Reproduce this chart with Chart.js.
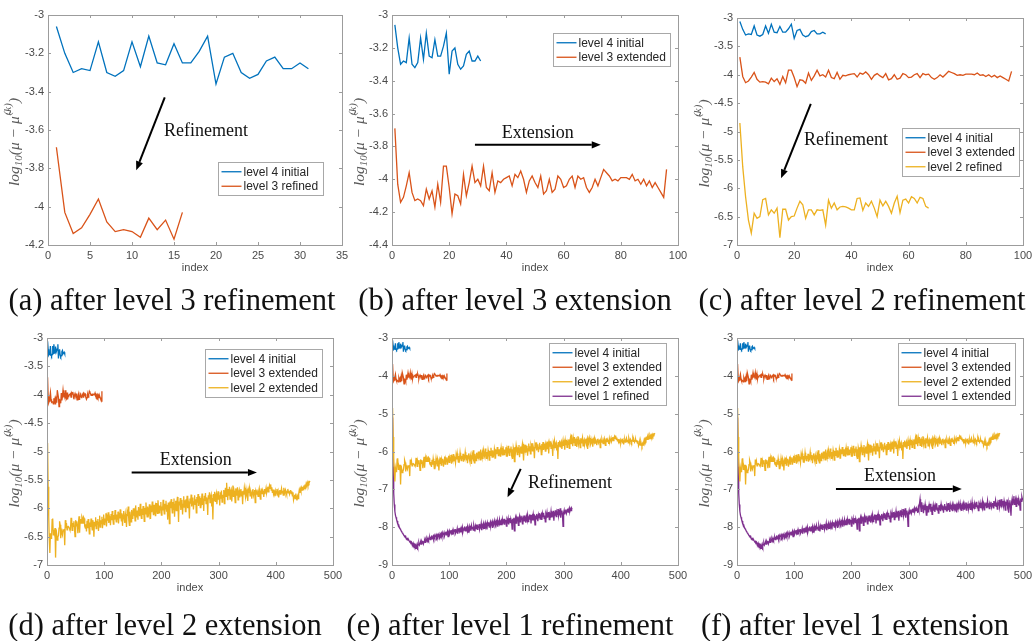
<!DOCTYPE html>
<html>
<head>
<meta charset="utf-8">
<script src="https://cdn.jsdelivr.net/npm/chart.js@4.4.1/dist/chart.umd.min.js"></script>
<style>
  body { margin: 0; background: #fff; }
  #page { position: relative; width: 1035px; height: 641px; overflow: hidden; background: #fff; }
  #page canvas { position: absolute; }
  .cap {
    position: absolute;
    font-family: "Liberation Serif", "Times New Roman", serif;
    font-size: 30.5px;
    color: #111;
    white-space: nowrap;
    transform: translate(-50%, -50%);
  }
</style>
</head>
<body>
<div id="page"></div>
<script>
// log10 error per index
const level4 = [-3.06, -3.20, -3.30, -3.28, -3.29, -3.14, -3.30, -3.32, -3.29, -3.14, -3.27, -3.11, -3.25, -3.26, -3.15, -3.25, -3.25, -3.19, -3.11, -3.36, -3.22, -3.20, -3.30, -3.33, -3.31, -3.24, -3.22, -3.28, -3.28, -3.25, -3.28];

const level3 = [
  -3.69, -4.03, -4.14, -4.11, -4.04, -3.96, -4.08, -4.13, -4.12, -4.13, -4.16, -4.06, -4.12, -4.07, -4.17, -4.03,
  -4.14, -3.92, -3.92, -4.05, -4.21, -4.09, -4.10, -4.15, -3.97, -4.10,
  -4.02, -3.92, -4.02, -4.00, -4.04, -3.92, -4.05, -4.07, -3.96, -4.08,
  -4.01, -4.02, -4.00, -3.99, -3.98, -4.04, -3.97, -3.99, -3.95, -4.00,
  -4.08, -4.01, -3.98, -4.02, -4.05, -3.98, -4.09, -4.07, -4.00, -4.08,
  -4.06, -3.98, -4.00, -4.05, -4.04, -4.00, -3.98, -4.05, -3.98, -4.00,
  -3.99, -4.05, -4.08, -4.05, -4.00, -4.04, -3.99, -3.94, -3.96, -3.98,
  -4.01, -4.00, -4.01, -3.99, -3.99, -3.99, -4.00, -3.97, -4.01, -4.00,
  -4.03, -4.00, -4.04, -4.01, -4.05, -4.02, -4.05, -4.08, -4.11, -3.94
];

const level2 = [
  -4.85, -5.62, -6.15, -6.56, -6.79, -6.44, -6.53, -6.50, -6.20, -6.18,
  -6.47, -6.38, -6.44, -6.35, -6.87, -6.37, -6.37, -6.56, -6.50, -6.49,
  -6.35, -6.23, -6.29, -6.53, -6.38, -6.38, -6.47, -6.38, -6.39, -6.38,
  -6.65, -6.21, -6.35, -6.26, -6.38, -6.33, -6.32, -6.33, -6.35, -6.38,
  -6.38, -6.18, -6.17, -6.39, -6.26, -6.32, -6.23, -6.35, -6.50, -6.21,
  -6.31, -6.23, -6.32, -6.44, -6.26, -6.14, -6.43, -6.21, -6.19, -6.26,
  -6.15, -6.18, -6.26, -6.16, -6.18, -6.32, -6.35,
  -6.28, -6.41, -6.22, -6.35, -6.19, -6.30, -6.45, -6.25, -6.33, -6.18,
  -6.29, -6.38, -6.21, -6.27, -6.50, -6.24, -6.31, -6.16, -6.36, -6.22,
  -6.28, -6.19, -6.40, -6.25, -6.13, -6.33, -6.21, -6.27, -6.15, -6.35,
  -6.20, -6.11, -6.29, -6.18, -6.24, -6.09, -6.32, -6.16, -6.22, -6.07,
  -6.26, -6.14, -6.19, -6.30, -6.10, -6.21, -6.05, -6.17, -6.28, -6.12,
  -6.20, -6.03, -6.16, -6.24, -6.11, -6.19, -6.06, -6.27, -6.13, -6.18,
  -6.02, -6.15, -6.22, -6.09, -6.31, -6.12, -6.05, -6.19, -6.26, -6.10,
  -6.17, -6.33, -6.08, -6.14, -5.97, -6.21, -6.30, -6.06, -6.15, -6.24,
  -6.03, -6.11, -6.19, -6.00, -6.13, -6.07, -6.22, -5.95, -6.10, -6.16,
  -6.04, -6.20, -5.98, -6.09, -6.14, -5.92, -6.08, -6.18, -6.01, -6.12,
  -5.96, -6.06, -6.23, -5.99, -6.10, -5.90, -6.05, -6.15, -5.97, -6.08,
  -6.12, -5.93, -6.03, -6.19, -5.95, -6.07, -5.88, -6.01, -6.11, -5.94,
  -6.05, -5.98, -6.14, -5.91, -6.02, -6.09, -5.86, -6.00, -6.08, -5.95,
  -6.03, -5.89, -6.12, -5.97, -6.04, -5.85, -5.99, -6.10, -5.92, -6.01,
  -5.87, -6.06, -5.94, -6.20, -5.90, -5.98, -6.27, -5.88, -6.00, -5.84,
  -5.96, -6.08, -5.89, -6.02, -5.83, -6.15, -5.93, -5.87, -6.04, -5.91,
  -5.80, -5.97, -6.24, -5.88, -5.95, -5.82, -6.03, -5.90, -5.85, -6.11,
  -5.93, -5.79, -5.98, -5.86, -6.06, -5.84, -5.91, -5.78, -6.00, -5.88,
  -5.95, -6.18, -5.83, -5.92, -5.76, -5.97, -5.86, -5.81, -6.02, -5.89,
  -5.77, -5.93, -5.84, -6.08, -5.80, -5.90, -5.75, -5.96, -5.85, -5.79,
  -5.99, -5.82, -5.88, -5.74, -5.94, -5.83, -6.05, -5.78, -5.87, -5.73,
  -5.92, -5.81, -5.86, -6.12, -5.77, -5.84, -5.72, -5.90, -5.80, -5.76,
  -5.97, -5.82, -6.20, -5.75, -5.86, -5.71, -5.88, -5.79, -5.74, -5.93,
  -5.80, -5.70, -5.85, -5.77, -5.95, -5.72, -5.83, -5.69, -5.89, -5.76,
  -5.81, -5.68, -5.92, -5.74, -5.64, -5.79, -5.55, -5.71, -5.86, -5.66,
  -5.78, -5.62, -5.84, -5.70, -5.67, -5.88, -5.73, -5.60, -5.80, -5.69,
  -5.75, -5.90, -5.65, -5.77, -5.71, -5.63, -5.85, -5.72, -5.68, -5.81,
  -5.74, -5.66, -5.79, -5.70, -5.93, -5.69, -5.76, -5.64, -5.72, -5.80,
  -5.67, -5.75, -5.71, -5.87, -5.68, -5.73, -5.65, -5.78, -5.70, -5.74,
  -5.83, -5.69, -5.66, -5.77, -5.72, -5.68, -5.90, -5.71, -5.75, -5.67,
  -5.73, -5.79, -5.70, -5.65, -5.76, -5.84, -5.71, -5.68, -5.74, -5.69,
  -5.72, -5.80, -5.66, -5.75, -5.70, -5.64, -5.73, -5.69, -5.62, -5.71,
  -5.66, -5.60, -5.65, -5.58, -5.68, -5.63, -5.72, -5.67, -5.75, -5.70,
  -5.73, -5.69, -5.78, -5.71, -5.66, -5.74, -5.70, -5.81, -5.72, -5.68,
  -5.75, -5.71, -5.65, -5.73, -5.69, -5.77, -5.64, -5.70, -5.74, -5.68,
  -5.72, -5.76, -5.70, -5.66, -5.73, -5.69, -5.75, -5.71, -5.68, -5.74,
  -5.70, -5.78, -5.72, -5.85, -5.80, -5.76, -5.83, -5.74, -5.81, -5.86,
  -5.79, -5.83, -5.75, -5.68, -5.73, -5.66, -5.70, -5.64, -5.68, -5.62,
  -5.67, -5.60, -5.65, -5.58, -5.63, -5.57, -5.61, -5.55, -5.59, -5.54,
  -5.56, -5.53, -5.52
];

const level1 = [
  -5.10, -6.40, -7.10, -7.40, -7.58, -7.68, -7.74, -7.80, -7.84, -7.90,
  -7.93, -7.97, -8.00, -8.04, -8.06, -8.10, -8.12, -8.15, -8.17, -8.20,
  -8.22, -8.24, -8.23, -8.27, -8.29, -8.31, -8.30, -8.34, -8.33, -8.36,
  -8.38, -8.37, -8.41, -8.39, -8.43, -8.46, -8.42, -8.48, -8.45, -8.50,
  -8.47, -8.56, -8.49, -8.44, -8.51, -8.46, -8.41, -8.47, -8.43, -8.40,
  -8.45, -8.38, -8.42, -8.36, -8.44, -8.39, -8.35, -8.40, -8.33, -8.37,
  -8.31, -8.36, -8.29, -8.34, -8.30, -8.27, -8.33, -8.28, -8.25, -8.31,
  -8.26, -8.23, -8.29, -8.22, -8.27, -8.24, -8.20, -8.26, -8.21, -8.25,
  -8.19, -8.23, -8.28, -8.18, -8.22, -8.17, -8.24, -8.15, -8.21, -8.19,
  -8.14, -8.22, -8.17, -8.12, -8.20, -8.16, -8.11, -8.25, -8.13, -8.09,
  -8.18, -8.14, -8.08, -8.16, -8.11, -8.20, -8.07, -8.13, -8.10, -8.05,
  -8.15, -8.09, -8.12, -8.04, -8.17, -8.08, -8.02, -8.11, -8.06, -8.14,
  -8.03, -8.09, -8.00, -8.12, -8.05, -8.08, -7.98, -8.10, -8.04, -8.01,
  -8.07, -7.99, -8.13, -8.03, -7.97, -8.06, -8.01, -8.09, -7.96, -8.04,
  -7.99, -8.08, -7.95, -8.02, -8.11, -7.97, -8.03, -7.93, -8.06, -7.98,
  -8.01, -7.92, -8.05, -7.96, -8.00, -7.90, -8.08, -7.95, -7.99, -7.91,
  -8.03, -7.94, -7.88, -7.98, -7.93, -8.06, -7.89, -7.96, -7.87, -8.00,
  -7.92, -7.86, -7.97, -7.90, -7.85, -8.02, -7.89, -7.94, -7.83, -7.91,
  -7.96, -7.84, -7.88, -7.81, -7.99, -7.86, -7.90, -7.80, -7.93, -7.85,
  -7.82, -7.95, -7.79, -7.87, -7.83, -7.92, -7.78, -7.86, -7.81, -7.97,
  -7.80, -7.85, -7.77, -7.93, -7.82, -7.76, -7.88, -7.79, -7.84, -8.05,
  -7.78, -7.87, -7.75, -8.10, -7.81, -7.74, -7.89, -7.77, -7.83, -7.72,
  -7.95, -7.79, -7.71, -7.86, -7.76, -7.80, -7.70, -7.91, -7.78, -7.74,
  -7.83, -7.69, -7.77, -7.88, -7.72, -7.79, -7.68, -7.85, -7.75, -7.71,
  -7.80, -7.67, -7.90, -7.74, -7.70, -7.82, -7.66, -7.76, -7.72, -7.94,
  -7.69, -7.78, -7.65, -7.73, -7.84, -7.68, -7.75, -7.63, -7.79, -7.70,
  -7.66, -7.81, -7.64, -7.72, -7.62, -7.77, -7.69, -7.86, -7.65, -7.71,
  -7.61, -7.75, -7.67, -7.60, -7.80, -7.66, -7.70, -7.58, -7.74, -7.64,
  -7.69, -7.57, -7.83, -7.63, -7.68, -7.55, -7.72, -7.61, -7.66, -7.52,
  -7.70, -7.59, -7.64, -7.50, -7.75, -7.60, -7.56, -7.67, -7.98, -7.62,
  -7.55, -7.66, -7.58, -7.53, -7.63, -7.57, -7.51, -7.60, -7.54, -7.49,
  -7.58, -7.52, -7.56, -7.50, -7.53,
  -7.62, -7.48, -7.55, -7.38, -7.26, -7.45, -7.58, -7.34, -7.50, -7.42,
  -7.63, -7.47, -7.55, -7.40, -7.52, -7.68, -7.44, -7.57, -7.49, -7.61,
  -7.43, -7.53, -7.38, -7.59, -7.46, -7.66, -7.50, -7.41, -7.56, -7.47,
  -7.60, -7.44, -7.52, -7.37, -7.55, -7.48, -7.63, -7.42, -7.51, -7.46,
  -7.58, -7.40, -7.49, -7.54, -7.43, -7.62, -7.47, -7.39, -7.53, -7.45,
  -7.57, -7.44, -7.50, -7.36, -7.55, -7.46, -7.60, -7.41, -7.49, -7.52,
  -7.43, -7.58, -7.40, -7.47, -7.54, -7.38, -7.51, -7.45, -7.61, -7.42,
  -7.48, -7.39, -7.53, -7.44, -7.36, -7.50, -7.46, -7.57, -7.41, -7.47,
  -7.38, -7.52, -7.43, -7.49, -7.35, -7.55, -7.42, -7.46, -7.39, -7.51,
  -7.44, -7.37, -7.53, -7.41, -7.48, -7.34, -7.50, -7.43, -7.47, -7.38,
  -7.52, -7.40, -7.45, -7.33, -7.49, -7.42, -7.56, -7.39, -7.44, -7.36,
  -7.50, -7.41, -7.47, -7.32, -7.45, -7.38, -7.54, -7.40, -7.43, -7.35,
  -7.48, -7.42, -7.30, -7.46, -7.37, -7.51, -7.39, -7.44, -7.33, -7.47,
  -7.40, -7.36, -7.49, -7.31, -7.43, -7.38, -7.29, -7.45, -7.35, -7.52,
  -7.37, -7.42, -7.28, -7.46, -7.34, -7.40, -7.26, -7.48, -7.36, -7.31,
  -7.44, -7.30, -7.39, -7.55, -7.33, -7.41, -7.27, -7.45, -7.35, -7.62,
  -7.38, -7.29, -7.47, -7.70, -7.34, -7.25, -7.42, -7.31, -7.18, -7.40,
  -7.33, -7.26, -7.45, -7.30, -7.37, -7.22, -7.41, -7.28, -7.35, -7.55,
  -7.24, -7.32, -7.20, -7.27, -7.23
];

// how many points each refined stage had
const level3Refined = level3.slice(0, 16);
const level2Refined = level2.slice(0, 67);
const level1Refined = level1.slice(0, 315);

const xTicks35 = [0, 5, 10, 15, 20, 25, 30, 35];
const xTicks100 = [0, 20, 40, 60, 80, 100];
const xTicks500 = [0, 100, 200, 300, 400, 500];
const yTicksA = [-4.2, -4, -3.8, -3.6, -3.4, -3.2, -3];
const yTicksB = [-4.4, -4.2, -4, -3.8, -3.6, -3.4, -3.2, -3];
const yTicksC = [-7, -6.5, -6, -5.5, -5, -4.5, -4, -3.5, -3];
const yTicksE = [-9, -8, -7, -6, -5, -4, -3];

const captions = [
  "(a) after level 3 refinement",
  "(b) after level 3 extension",
  "(c) after level 2 refinement",
  "(d) after level 2 extension",
  "(e) after level 1 refinement",
  "(f) after level 1 extension",
];

const blue = "#0072BD";
const orange = "#D95319";
const yellow = "#EDB120";
const purple = "#7E2F8E";
const axisColor = "#9c9c9c";
const labelColor = "#4a4a4a";
const sans = "'Liberation Sans', Arial, Helvetica, sans-serif";
const serif = "'Liberation Serif', 'Times New Roman', serif";

const panels = [
  {
    box: [0, 0, 360, 285], area: [48, 15, 342, 245],
    xTicks: xTicks35, yTicks: yTicksA,
    series: [["level 4 initial", level4, blue], ["level 3 refined", level3Refined, orange]],
    legend: [0.579, 0.638], note: ["Refinement", 18.8, -3.605], arrow: [13.9, -3.43, 10.5, -3.81],
    caption: [172, 300],
  },
  {
    box: [345, 0, 360, 285], area: [392, 15, 678, 245],
    xTicks: xTicks100, yTicks: yTicksB,
    series: [["level 4 initial", level4, blue], ["level 3 extended", level3, orange]],
    legend: [0.563, 0.078], note: ["Extension", 51, -3.72], arrow: [29, -3.79, 73, -3.79],
    caption: [515, 300],
  },
  {
    box: [690, 0, 345, 285], area: [737, 18, 1023, 245],
    xTicks: xTicks100, yTicks: yTicksC,
    series: [["level 4 initial", level4, blue], ["level 3 extended", level3, orange], ["level 2 refined", level2Refined, yellow]],
    legend: [0.577, 0.485], note: ["Refinement", 38.1, -5.15], arrow: [25.8, -4.515, 15.4, -5.825],
    caption: [862, 300],
  },
  {
    box: [0, 322, 360, 283], area: [47, 338, 333, 565],
    xTicks: xTicks500, yTicks: yTicksC,
    series: [["level 4 initial", level4, blue], ["level 3 extended", level3, orange], ["level 2 extended", level2, yellow]],
    legend: [0.552, 0.048], note: ["Extension", 260, -5.15], arrow: [148, -5.37, 367, -5.37],
    caption: [165, 625],
  },
  {
    box: [345, 322, 360, 283], area: [392, 338, 678, 565],
    xTicks: xTicks500, yTicks: yTicksE,
    series: [["level 4 initial", level4, blue], ["level 3 extended", level3, orange], ["level 2 extended", level2, yellow], ["level 1 refined", level1Refined, purple]],
    legend: [0.549, 0.022], note: ["Refinement", 311, -6.84], arrow: [225, -6.46, 202, -7.21],
    caption: [510, 625],
  },
  {
    box: [690, 322, 345, 283], area: [737, 338, 1023, 565],
    xTicks: xTicks500, yTicks: yTicksE,
    series: [["level 4 initial", level4, blue], ["level 3 extended", level3, orange], ["level 2 extended", level2, yellow], ["level 1 extended", level1, purple]],
    legend: [0.563, 0.022], note: ["Extension", 285, -6.65], arrow: [173, -6.99, 393, -6.99],
    caption: [855, 625],
  },
];

// y label with sub/superscript, drawn rotated
const drawYLabel = (ctx, x, cy) => {
  const main = "italic 15.5px " + serif;
  const small = "italic 11px " + serif;
  const parts = [["log", main, 0, 0], ["10", small, 4, 0], ["(\u03bc \u2212 \u03bc\u0303", main, 0, 1], ["(k)", small, -7, 0], [")", main, 0, 0]];
  ctx.save();
  ctx.translate(x, cy);
  ctx.rotate(-Math.PI / 2);
  ctx.fillStyle = "#5a5a5a";
  ctx.textBaseline = "middle";
  ctx.textAlign = "left";
  let total = 0;
  parts.forEach(([t, f, dy, gap]) => { ctx.font = f; total += ctx.measureText(t).width + gap; });
  let px = -total / 2;
  parts.forEach(([t, f, dy, gap]) => {
    ctx.font = f;
    ctx.fillText(t, px, dy);
    px += ctx.measureText(t).width + gap;
  });
  ctx.restore();
};

// matlab look: box, inward ticks, arrow + note, legend inside the axes
const matlabFrame = {
  id: "matlabFrame",
  afterDatasetsDraw(chart, args, opts) {
    const { ctx, chartArea: a } = chart;
    const sx = chart.scales.x;
    const sy = chart.scales.y;
    ctx.save();

    ctx.strokeStyle = axisColor;
    ctx.lineWidth = 1;
    ctx.beginPath();
    sx.ticks.forEach((t) => {
      const p = Math.round(sx.getPixelForValue(t.value)) + 0.5;
      ctx.moveTo(p, a.bottom); ctx.lineTo(p, a.bottom - 3);
      ctx.moveTo(p, a.top); ctx.lineTo(p, a.top + 3);
    });
    sy.ticks.forEach((t) => {
      const p = Math.round(sy.getPixelForValue(t.value)) + 0.5;
      ctx.moveTo(a.left, p); ctx.lineTo(a.left + 3, p);
      ctx.moveTo(a.right, p); ctx.lineTo(a.right - 3, p);
    });
    ctx.stroke();
    ctx.strokeRect(Math.round(a.left) + 0.5, Math.round(a.top) + 0.5, Math.round(a.right - a.left), Math.round(a.bottom - a.top));

    drawYLabel(ctx, sy.left + 15, (a.top + a.bottom) / 2 + 12);

    // arrow
    const [ax1, ay1, ax2, ay2] = opts.arrow;
    const x1 = sx.getPixelForValue(ax1), y1 = sy.getPixelForValue(ay1);
    const x2 = sx.getPixelForValue(ax2), y2 = sy.getPixelForValue(ay2);
    const ang = Math.atan2(y2 - y1, x2 - x1);
    const hl = 9, hw = 3.6;
    ctx.strokeStyle = "#000";
    ctx.fillStyle = "#000";
    ctx.lineWidth = 2;
    ctx.beginPath();
    ctx.moveTo(x1, y1);
    ctx.lineTo(x2 - hl * Math.cos(ang), y2 - hl * Math.sin(ang));
    ctx.stroke();
    ctx.beginPath();
    ctx.moveTo(x2, y2);
    ctx.lineTo(x2 - hl * Math.cos(ang) + hw * Math.sin(ang), y2 - hl * Math.sin(ang) - hw * Math.cos(ang));
    ctx.lineTo(x2 - hl * Math.cos(ang) - hw * Math.sin(ang), y2 - hl * Math.sin(ang) + hw * Math.cos(ang));
    ctx.closePath();
    ctx.fill();

    const [txt, tx, ty] = opts.note;
    ctx.font = "18px " + serif;
    ctx.fillStyle = "#111";
    ctx.textAlign = "center";
    ctx.textBaseline = "middle";
    ctx.fillText(txt, sx.getPixelForValue(tx), sy.getPixelForValue(ty));

    // legend
    const sets = chart.data.datasets;
    ctx.font = "12px " + sans;
    const tw = Math.max(...sets.map((d) => ctx.measureText(d.label).width));
    const rowH = 14.5;
    const lx = Math.round(a.left + opts.legend[0] * (a.right - a.left)) + 0.5;
    const ly = Math.round(a.top + opts.legend[1] * (a.bottom - a.top)) + 0.5;
    const lw = Math.round(3 + 20 + 2 + tw + 5);
    const lh = Math.round(sets.length * rowH + 4);
    ctx.fillStyle = "#fff";
    ctx.fillRect(lx, ly, lw, lh);
    ctx.strokeStyle = "#a8a8a8";
    ctx.lineWidth = 1;
    ctx.strokeRect(lx, ly, lw, lh);
    ctx.textAlign = "left";
    ctx.textBaseline = "middle";
    sets.forEach((d, i) => {
      const cy = ly + 2 + rowH * (i + 0.5);
      ctx.strokeStyle = d.borderColor;
      ctx.lineWidth = 1.3;
      ctx.beginPath();
      ctx.moveTo(lx + 3, cy);
      ctx.lineTo(lx + 23, cy);
      ctx.stroke();
      ctx.fillStyle = "#262626";
      ctx.fillText(d.label, lx + 25, cy + 0.5);
    });

    ctx.restore();
  },
};

const page = document.getElementById("page");

panels.forEach((p, n) => {
  const [bx, by, bw, bh] = p.box;
  const [l, t, r, b] = p.area;
  const canvas = document.createElement("canvas");
  canvas.width = bw;
  canvas.height = bh;
  canvas.style.left = bx + "px";
  canvas.style.top = by + "px";
  page.appendChild(canvas);

  const cap = document.createElement("div");
  cap.className = "cap";
  cap.textContent = captions[n];
  cap.style.left = p.caption[0] + "px";
  cap.style.top = p.caption[1] + "px";
  page.appendChild(cap);

  new Chart(canvas.getContext("2d"), {
    type: "line",
    data: {
      datasets: p.series.map(([label, values, color]) => ({
        label,
        data: values.map((v, i) => ({ x: i + 1, y: v })),
        borderColor: color,
        backgroundColor: color,
        borderWidth: 1.3,
        pointRadius: 0,
        tension: 0,
        fill: false,
      })),
    },
    options: {
      responsive: false,
      animation: false,
      devicePixelRatio: 1,
      layout: { padding: { top: t - by, right: bx + bw - r, left: 0, bottom: 0 } },
      plugins: {
        legend: { display: false },
        tooltip: { enabled: false },
        matlabFrame: { legend: p.legend, note: p.note, arrow: p.arrow },
      },
      scales: {
        x: {
          type: "linear",
          min: p.xTicks[0],
          max: p.xTicks[p.xTicks.length - 1],
          grid: { display: false, drawTicks: false },
          border: { display: false },
          ticks: {
            color: labelColor,
            font: { family: sans, size: 11 },
            padding: 4,
            maxRotation: 0,
            autoSkip: false,
            callback: (v) => String(v),
          },
          title: { display: true, text: "index", color: labelColor, font: { family: sans, size: 11 }, padding: { top: 0, bottom: 10 } },
          afterBuildTicks: (s) => { s.ticks = p.xTicks.map((v) => ({ value: v })); },
          afterFit: (s) => { s.height = by + bh - b; s.paddingLeft = 0; s.paddingRight = 0; },
        },
        y: {
          type: "linear",
          min: p.yTicks[0],
          max: p.yTicks[p.yTicks.length - 1],
          grid: { display: false, drawTicks: false },
          border: { display: false },
          ticks: {
            color: labelColor,
            font: { family: sans, size: 11 },
            padding: 4,
            autoSkip: false,
            callback: (v) => String(v),
          },
          title: { display: false },
          afterBuildTicks: (s) => { s.ticks = p.yTicks.map((v) => ({ value: v })); },
          afterFit: (s) => { s.width = l - bx; s.paddingTop = 0; s.paddingBottom = 0; },
        },
      },
    },
    plugins: [matlabFrame],
  });
});
</script>
</body>
</html>
